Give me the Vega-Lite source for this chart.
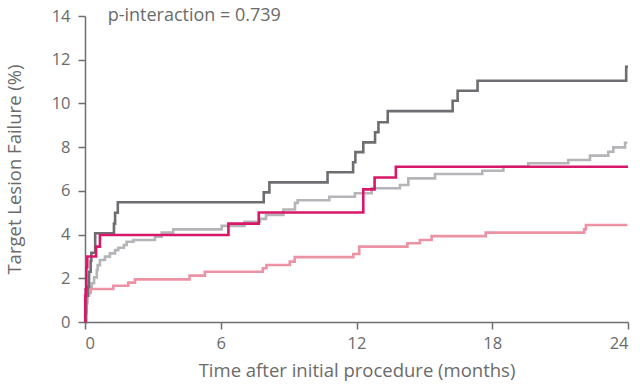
{
  "$schema": "https://vega.github.io/schema/vega-lite/v6.json",
  "width": 543,
  "height": 306,
  "autosize": {"type": "none"},
  "padding": {"left": 85, "top": 16, "right": 12, "bottom": 66},
  "config": {
    "view": {"stroke": null},
    "font": "Open Sans",
    "axis": {
      "domainColor": "#6f6f6f",
      "tickColor": "#6f6f6f",
      "labelColor": "#6b6b6b",
      "titleColor": "#6b6b6b",
      "labelFont": "Open Sans",
      "titleFont": "Open Sans",
      "labelFontSize": 16.5,
      "titleFontSize": 18.5,
      "titleFontWeight": "normal",
      "tickSize": 7,
      "domainWidth": 1.5,
      "tickWidth": 1.5,
      "grid": false
    }
  },
  "datasets": {
    "curves": [
      {"series": "lightgray", "t": 0, "v": 0},
      {"series": "lightgray", "t": 0.03, "v": 0.4},
      {"series": "lightgray", "t": 0.06, "v": 0.85},
      {"series": "lightgray", "t": 0.1, "v": 1.31},
      {"series": "lightgray", "t": 0.2, "v": 1.6},
      {"series": "lightgray", "t": 0.3, "v": 1.77},
      {"series": "lightgray", "t": 0.4, "v": 2.04},
      {"series": "lightgray", "t": 0.52, "v": 2.38},
      {"series": "lightgray", "t": 0.56, "v": 2.6},
      {"series": "lightgray", "t": 0.66, "v": 2.84},
      {"series": "lightgray", "t": 0.88, "v": 2.99},
      {"series": "lightgray", "t": 1.1, "v": 3.14},
      {"series": "lightgray", "t": 1.33, "v": 3.29},
      {"series": "lightgray", "t": 1.47, "v": 3.4},
      {"series": "lightgray", "t": 1.72, "v": 3.52},
      {"series": "lightgray", "t": 1.84, "v": 3.67},
      {"series": "lightgray", "t": 2.14, "v": 3.75},
      {"series": "lightgray", "t": 3.09, "v": 3.9},
      {"series": "lightgray", "t": 3.39, "v": 4.09},
      {"series": "lightgray", "t": 3.9, "v": 4.24},
      {"series": "lightgray", "t": 6.04, "v": 4.4},
      {"series": "lightgray", "t": 7.05, "v": 4.59},
      {"series": "lightgray", "t": 7.73, "v": 4.72},
      {"series": "lightgray", "t": 8.0, "v": 4.9},
      {"series": "lightgray", "t": 8.77, "v": 5.15},
      {"series": "lightgray", "t": 9.28, "v": 5.45},
      {"series": "lightgray", "t": 9.4, "v": 5.57},
      {"series": "lightgray", "t": 10.8, "v": 5.73},
      {"series": "lightgray", "t": 11.93, "v": 5.89},
      {"series": "lightgray", "t": 12.67, "v": 6.12},
      {"series": "lightgray", "t": 13.92, "v": 6.27},
      {"series": "lightgray", "t": 14.29, "v": 6.57},
      {"series": "lightgray", "t": 15.47, "v": 6.77},
      {"series": "lightgray", "t": 17.56, "v": 6.92},
      {"series": "lightgray", "t": 18.49, "v": 7.1},
      {"series": "lightgray", "t": 19.59, "v": 7.26},
      {"series": "lightgray", "t": 21.36, "v": 7.41},
      {"series": "lightgray", "t": 22.32, "v": 7.61},
      {"series": "lightgray", "t": 23.13, "v": 7.79},
      {"series": "lightgray", "t": 23.35, "v": 7.99},
      {"series": "lightgray", "t": 23.87, "v": 8.2},
      {"series": "lightgray", "t": 23.97, "v": 8.2},
      {"series": "pink", "t": 0, "v": 0},
      {"series": "pink", "t": 0.02, "v": 0.5},
      {"series": "pink", "t": 0.05, "v": 1.0},
      {"series": "pink", "t": 0.1, "v": 1.2},
      {"series": "pink", "t": 0.17, "v": 1.35},
      {"series": "pink", "t": 0.25, "v": 1.51},
      {"series": "pink", "t": 1.25, "v": 1.66},
      {"series": "pink", "t": 1.91, "v": 1.8},
      {"series": "pink", "t": 2.21, "v": 1.95},
      {"series": "pink", "t": 4.62, "v": 2.12},
      {"series": "pink", "t": 5.3, "v": 2.3},
      {"series": "pink", "t": 7.86, "v": 2.46},
      {"series": "pink", "t": 8.02, "v": 2.61},
      {"series": "pink", "t": 9.05, "v": 2.76},
      {"series": "pink", "t": 9.27, "v": 2.97},
      {"series": "pink", "t": 11.86, "v": 3.11},
      {"series": "pink", "t": 12.12, "v": 3.45},
      {"series": "pink", "t": 14.25, "v": 3.6},
      {"series": "pink", "t": 14.8, "v": 3.75},
      {"series": "pink", "t": 15.32, "v": 3.93},
      {"series": "pink", "t": 17.71, "v": 4.09},
      {"series": "pink", "t": 22.06, "v": 4.24},
      {"series": "pink", "t": 22.14, "v": 4.44},
      {"series": "pink", "t": 23.97, "v": 4.44},
      {"series": "darkgray", "t": 0, "v": 0},
      {"series": "darkgray", "t": 0.05, "v": 1.2},
      {"series": "darkgray", "t": 0.12, "v": 1.6},
      {"series": "darkgray", "t": 0.18, "v": 2.3},
      {"series": "darkgray", "t": 0.25, "v": 2.8},
      {"series": "darkgray", "t": 0.28, "v": 3.17},
      {"series": "darkgray", "t": 0.45, "v": 4.06},
      {"series": "darkgray", "t": 1.28, "v": 4.5},
      {"series": "darkgray", "t": 1.33, "v": 5.0},
      {"series": "darkgray", "t": 1.45, "v": 5.48},
      {"series": "darkgray", "t": 7.9, "v": 5.93},
      {"series": "darkgray", "t": 8.15, "v": 6.39},
      {"series": "darkgray", "t": 10.72, "v": 6.85},
      {"series": "darkgray", "t": 11.85, "v": 7.31},
      {"series": "darkgray", "t": 11.95, "v": 7.77},
      {"series": "darkgray", "t": 12.3, "v": 8.22},
      {"series": "darkgray", "t": 12.82, "v": 8.68},
      {"series": "darkgray", "t": 12.97, "v": 9.14},
      {"series": "darkgray", "t": 13.38, "v": 9.65},
      {"series": "darkgray", "t": 16.25, "v": 10.12},
      {"series": "darkgray", "t": 16.47, "v": 10.58},
      {"series": "darkgray", "t": 17.35, "v": 11.04},
      {"series": "darkgray", "t": 23.92, "v": 11.68},
      {"series": "darkgray", "t": 24, "v": 11.68},
      {"series": "crimson", "t": 0, "v": 0},
      {"series": "crimson", "t": 0.01, "v": 1.2},
      {"series": "crimson", "t": 0.03, "v": 1.5},
      {"series": "crimson", "t": 0.06, "v": 2.5},
      {"series": "crimson", "t": 0.1, "v": 3.0},
      {"series": "crimson", "t": 0.49, "v": 3.45},
      {"series": "crimson", "t": 0.66, "v": 3.98},
      {"series": "crimson", "t": 6.34, "v": 4.5},
      {"series": "crimson", "t": 7.68, "v": 5.01},
      {"series": "crimson", "t": 12.3, "v": 6.07},
      {"series": "crimson", "t": 12.8, "v": 6.61},
      {"series": "crimson", "t": 13.74, "v": 7.1},
      {"series": "crimson", "t": 24, "v": 7.1}
    ],
    "notes": [
      {"t": 1.0, "v": 14, "label": "p-interaction = 0.739"}
    ]
  },
  "layer": [
    {
      "data": {"name": "curves"},
      "transform": [{"filter": "datum.series === 'lightgray'"}],
      "mark": {"type": "line", "interpolate": "step-after", "strokeWidth": 2.6, "color": "#b5b5b9"},
      "encoding": {
        "x": {"field": "t", "type": "quantitative", "scale": {"domain": [0, 24], "nice": false},
          "axis": {"values": [0, 6, 12, 18, 24], "title": "Time after initial procedure (months)", "labelPadding": 6, "titlePadding": 10}},
        "y": {"field": "v", "type": "quantitative", "scale": {"domain": [0, 14], "nice": false},
          "axis": {"values": [0, 2, 4, 6, 8, 10, 12, 14], "title": "Target Lesion Failure (%)", "labelPadding": 8, "titlePadding": 27}}
      }
    },
    {
      "data": {"name": "curves"},
      "transform": [{"filter": "datum.series === 'pink'"}],
      "mark": {"type": "line", "interpolate": "step-after", "strokeWidth": 2.6, "color": "#eb93a4"},
      "encoding": {
        "x": {"field": "t", "type": "quantitative"},
        "y": {"field": "v", "type": "quantitative"}
      }
    },
    {
      "data": {"name": "curves"},
      "transform": [{"filter": "datum.series === 'darkgray'"}],
      "mark": {"type": "line", "interpolate": "step-after", "strokeWidth": 2.6, "color": "#6e6e72"},
      "encoding": {
        "x": {"field": "t", "type": "quantitative"},
        "y": {"field": "v", "type": "quantitative"}
      }
    },
    {
      "data": {"name": "curves"},
      "transform": [{"filter": "datum.series === 'crimson'"}],
      "mark": {"type": "line", "interpolate": "step-after", "strokeWidth": 2.6, "color": "#d9176a"},
      "encoding": {
        "x": {"field": "t", "type": "quantitative"},
        "y": {"field": "v", "type": "quantitative"}
      }
    },
    {
      "data": {"name": "notes"},
      "mark": {"type": "text", "align": "left", "baseline": "middle", "fontSize": 18, "color": "#6b6b6b", "font": "Open Sans"},
      "encoding": {
        "x": {"field": "t", "type": "quantitative"},
        "y": {"field": "v", "type": "quantitative"},
        "text": {"field": "label"}
      }
    }
  ]
}
